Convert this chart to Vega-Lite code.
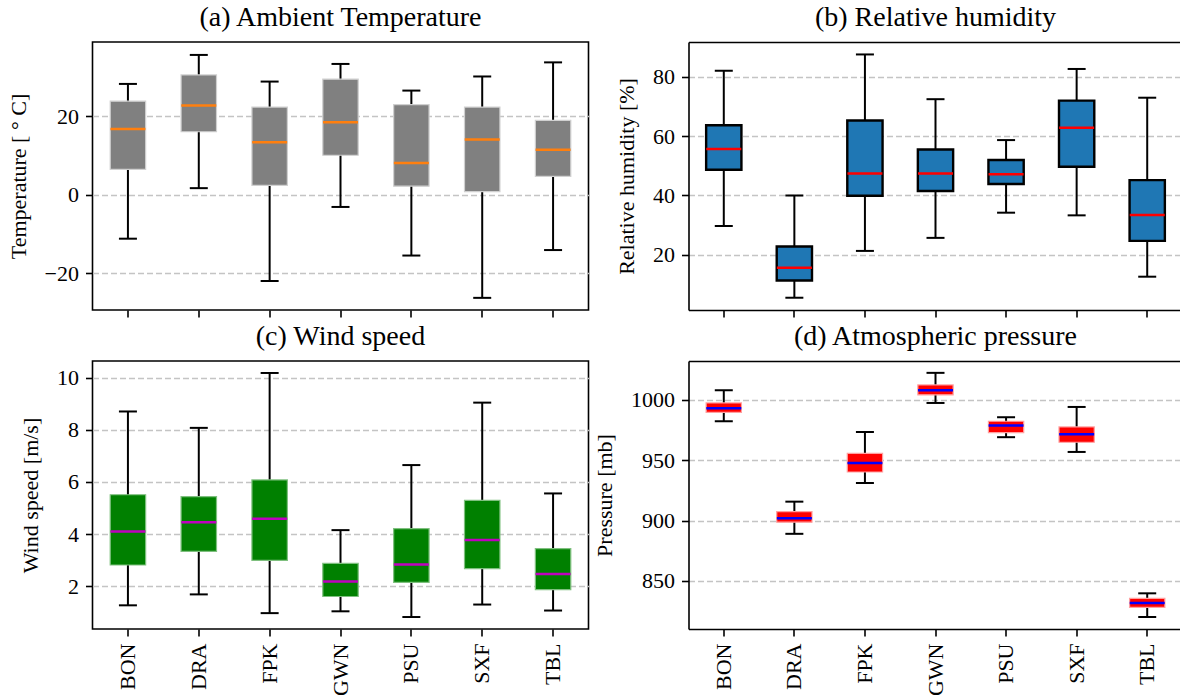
{
  "$schema": "https://vega.github.io/schema/vega-lite/v6.json",
  "background": "white",
  "padding": {"left": 5.5, "top": 3, "right": 0, "bottom": 0},
  "columns": 2,
  "spacing": {"row": 3, "column": 4},
  "config": {
    "font": "Liberation Serif",
    "title": {"font": "Liberation Serif", "fontSize": 28, "fontWeight": "normal", "color": "black", "offset": 10},
    "axis": {
      "labelFont": "Liberation Serif", "titleFont": "Liberation Serif",
      "labelFontSize": 22, "titleFontSize": 22, "titleFontWeight": "normal",
      "labelColor": "black", "titleColor": "black",
      "tickColor": "black", "tickSize": 7, "tickWidth": 1.6, "labelPadding": 7,
      "titlePadding": 14, "domain": false,
      "gridColor": "#c4c4c4", "gridDash": [6, 3], "gridWidth": 1.4
    }
  },
  "datasets": {
    "stats": [
      {"panel": "a", "station": "BON", "low": -11.2, "q1": 6.5, "median": 16.8, "q3": 23.9, "high": 28.3},
      {"panel": "a", "station": "DRA", "low": 1.7, "q1": 16.1, "median": 22.8, "q3": 30.6, "high": 35.7},
      {"panel": "a", "station": "FPK", "low": -22.0, "q1": 2.4, "median": 13.4, "q3": 22.4, "high": 28.9},
      {"panel": "a", "station": "GWN", "low": -3.1, "q1": 10.1, "median": 18.5, "q3": 29.5, "high": 33.4},
      {"panel": "a", "station": "PSU", "low": -15.5, "q1": 2.2, "median": 8.1, "q3": 23.0, "high": 26.6},
      {"panel": "a", "station": "SXF", "low": -26.3, "q1": 0.8, "median": 14.1, "q3": 22.4, "high": 30.2},
      {"panel": "a", "station": "TBL", "low": -14.1, "q1": 4.7, "median": 11.5, "q3": 19.0, "high": 33.8},
      {"panel": "b", "station": "BON", "low": 29.7, "q1": 48.7, "median": 55.7, "q3": 63.7, "high": 82.1},
      {"panel": "b", "station": "DRA", "low": 5.5, "q1": 11.3, "median": 15.6, "q3": 22.8, "high": 40.0},
      {"panel": "b", "station": "FPK", "low": 21.3, "q1": 39.9, "median": 47.4, "q3": 65.3, "high": 87.6},
      {"panel": "b", "station": "GWN", "low": 25.7, "q1": 41.5, "median": 47.4, "q3": 55.5, "high": 72.5},
      {"panel": "b", "station": "PSU", "low": 34.2, "q1": 43.9, "median": 47.2, "q3": 52.0, "high": 58.7},
      {"panel": "b", "station": "SXF", "low": 33.3, "q1": 49.7, "median": 62.9, "q3": 72.0, "high": 82.7},
      {"panel": "b", "station": "TBL", "low": 12.6, "q1": 24.7, "median": 33.4, "q3": 45.2, "high": 73.0},
      {"panel": "c", "station": "BON", "low": 1.26, "q1": 2.81, "median": 4.10, "q3": 5.51, "high": 8.71},
      {"panel": "c", "station": "DRA", "low": 1.68, "q1": 3.33, "median": 4.45, "q3": 5.44, "high": 8.08},
      {"panel": "c", "station": "FPK", "low": 0.96, "q1": 2.99, "median": 4.59, "q3": 6.08, "high": 10.19},
      {"panel": "c", "station": "GWN", "low": 1.03, "q1": 1.60, "median": 2.18, "q3": 2.87, "high": 4.15},
      {"panel": "c", "station": "PSU", "low": 0.81, "q1": 2.14, "median": 2.83, "q3": 4.21, "high": 6.65},
      {"panel": "c", "station": "SXF", "low": 1.29, "q1": 2.67, "median": 3.77, "q3": 5.29, "high": 9.05},
      {"panel": "c", "station": "TBL", "low": 1.06, "q1": 1.86, "median": 2.46, "q3": 3.44, "high": 5.56},
      {"panel": "d", "station": "BON", "low": 982.1, "q1": 989.5, "median": 992.8, "q3": 997.2, "high": 1007.7},
      {"panel": "d", "station": "DRA", "low": 889.0, "q1": 898.6, "median": 901.9, "q3": 907.4, "high": 915.6},
      {"panel": "d", "station": "FPK", "low": 931.0, "q1": 940.1, "median": 947.5, "q3": 955.5, "high": 973.2},
      {"panel": "d", "station": "GWN", "low": 997.2, "q1": 1003.9, "median": 1007.7, "q3": 1012.1, "high": 1022.1},
      {"panel": "d", "station": "PSU", "low": 968.9, "q1": 972.7, "median": 978.5, "q3": 982.1, "high": 985.4},
      {"panel": "d", "station": "SXF", "low": 956.7, "q1": 964.7, "median": 971.4, "q3": 977.4, "high": 993.9},
      {"panel": "d", "station": "TBL", "low": 820.2, "q1": 828.2, "median": 831.8, "q3": 835.7, "high": 839.8}
    ]
  },
  "concat": [
    {
      "title": "(a) Ambient Temperature",
      "width": 496, "height": 268,
      "view": {"stroke": "black", "strokeWidth": 1.6},
      "data": {"name": "stats"},
      "transform": [{"filter": "datum.panel === 'a'"}],
      "encoding": {
        "x": {"field": "station", "type": "nominal", "title": null,
              "scale": {"paddingInner": 0, "paddingOuter": 0},
              "axis": {"labels": false, "grid": false}}
      },
      "layer": [
        {"mark": {"type": "rule", "color": "black", "strokeWidth": 2},
         "encoding": {"y": {"field": "low", "type": "quantitative", "title": "Temperature [ ° C]",
                            "scale": {"domain": [-29.4, 39.0], "nice": false, "zero": false},
                            "axis": {"values": [-20, 0, 20], "grid": true, "format": "d"}},
                      "y2": {"field": "high"}}},
        {"mark": {"type": "bar", "width": {"band": 0.5}, "fill": "#808080", "stroke": "#d0d0d0", "strokeWidth": 1.2},
         "encoding": {"y": {"field": "q1", "type": "quantitative", "title": "Temperature [ ° C]"}, "y2": {"field": "q3"}}},
        {"mark": {"type": "tick", "color": "#ff7f0e", "size": 35, "thickness": 2.5, "opacity": 1},
         "encoding": {"y": {"field": "median", "type": "quantitative", "title": "Temperature [ ° C]"}}},
        {"mark": {"type": "tick", "color": "black", "size": 18, "thickness": 2, "opacity": 1},
         "encoding": {"y": {"field": "low", "type": "quantitative", "title": "Temperature [ ° C]"}}},
        {"mark": {"type": "tick", "color": "black", "size": 18, "thickness": 2, "opacity": 1},
         "encoding": {"y": {"field": "high", "type": "quantitative", "title": "Temperature [ ° C]"}}}
      ]
    },
    {
      "title": "(b) Relative humidity",
      "width": 494, "height": 268,
      "view": {"stroke": null},
      "data": {"name": "stats"},
      "transform": [{"filter": "datum.panel === 'b'"}],
      "resolve": {"axis": {"x": "independent"}},
      "layer": [
        {"mark": {"type": "rule", "color": "black", "strokeWidth": 2},
         "encoding": {
           "x": {"field": "station", "type": "nominal", "title": null,
                 "scale": {"paddingInner": 0, "paddingOuter": 0},
                 "axis": {"labels": false, "grid": false, "domain": true, "domainColor": "black", "domainWidth": 1.6}},
           "y": {"field": "low", "type": "quantitative", "title": "Relative humidity [%]",
                 "scale": {"domain": [1.36, 91.8], "nice": false, "zero": false},
                 "axis": {"values": [20, 40, 60, 80], "grid": true, "format": "d", "domain": true, "domainColor": "black", "domainWidth": 1.6}},
           "y2": {"field": "high"}}},
        {"mark": {"type": "bar", "width": {"band": 0.5}, "fill": "#1f77b4", "stroke": "black", "strokeWidth": 2.4},
         "encoding": {
           "x": {"field": "station", "type": "nominal", "title": null,
                 "axis": {"orient": "top", "labels": false, "ticks": false, "grid": false, "domain": true, "domainColor": "black", "domainWidth": 1.6}},
           "y": {"field": "q1", "type": "quantitative", "title": "Relative humidity [%]"}, "y2": {"field": "q3"}}},
        {"mark": {"type": "tick", "color": "#ff0000", "size": 35, "thickness": 2.5, "opacity": 1},
         "encoding": {"x": {"field": "station", "type": "nominal", "axis": null},
                      "y": {"field": "median", "type": "quantitative", "title": "Relative humidity [%]"}}},
        {"mark": {"type": "tick", "color": "black", "size": 18, "thickness": 2, "opacity": 1},
         "encoding": {"x": {"field": "station", "type": "nominal", "axis": null},
                      "y": {"field": "low", "type": "quantitative", "title": "Relative humidity [%]"}}},
        {"mark": {"type": "tick", "color": "black", "size": 18, "thickness": 2, "opacity": 1},
         "encoding": {"x": {"field": "station", "type": "nominal", "axis": null},
                      "y": {"field": "high", "type": "quantitative", "title": "Relative humidity [%]"}}}
      ]
    },
    {
      "title": "(c) Wind speed",
      "width": 496, "height": 268,
      "view": {"stroke": "black", "strokeWidth": 1.6},
      "data": {"name": "stats"},
      "transform": [{"filter": "datum.panel === 'c'"}],
      "encoding": {
        "x": {"field": "station", "type": "nominal", "title": null,
              "scale": {"paddingInner": 0, "paddingOuter": 0},
              "axis": {"labelAngle": -90, "grid": false}}
      },
      "layer": [
        {"mark": {"type": "rule", "color": "black", "strokeWidth": 2},
         "encoding": {"y": {"field": "low", "type": "quantitative", "title": "Wind speed [m/s]",
                            "scale": {"domain": [0.35, 10.65], "nice": false, "zero": false},
                            "axis": {"values": [2, 4, 6, 8, 10], "grid": true, "format": "d"}},
                      "y2": {"field": "high"}}},
        {"mark": {"type": "bar", "width": {"band": 0.5}, "fill": "#008000", "stroke": "#7fc07f", "strokeWidth": 1.2},
         "encoding": {"y": {"field": "q1", "type": "quantitative", "title": "Wind speed [m/s]"}, "y2": {"field": "q3"}}},
        {"mark": {"type": "tick", "color": "#bf00bf", "size": 35, "thickness": 2.5, "opacity": 1},
         "encoding": {"y": {"field": "median", "type": "quantitative", "title": "Wind speed [m/s]"}}},
        {"mark": {"type": "tick", "color": "black", "size": 18, "thickness": 2, "opacity": 1},
         "encoding": {"y": {"field": "low", "type": "quantitative", "title": "Wind speed [m/s]"}}},
        {"mark": {"type": "tick", "color": "black", "size": 18, "thickness": 2, "opacity": 1},
         "encoding": {"y": {"field": "high", "type": "quantitative", "title": "Wind speed [m/s]"}}}
      ]
    },
    {
      "title": "(d) Atmospheric pressure",
      "width": 494, "height": 268,
      "view": {"stroke": null},
      "data": {"name": "stats"},
      "transform": [{"filter": "datum.panel === 'd'"}],
      "resolve": {"axis": {"x": "independent"}},
      "layer": [
        {"mark": {"type": "rule", "color": "black", "strokeWidth": 2},
         "encoding": {
           "x": {"field": "station", "type": "nominal", "title": null,
                 "scale": {"paddingInner": 0, "paddingOuter": 0},
                 "axis": {"labelAngle": -90, "grid": false, "domain": true, "domainColor": "black", "domainWidth": 1.6}},
           "y": {"field": "low", "type": "quantitative", "title": "Pressure [mb]",
                 "scale": {"domain": [810.3, 1031.9], "nice": false, "zero": false},
                 "axis": {"values": [850, 900, 950, 1000], "grid": true, "format": "d", "domain": true, "domainColor": "black", "domainWidth": 1.6}},
           "y2": {"field": "high"}}},
        {"mark": {"type": "bar", "width": {"band": 0.5}, "fill": "#ff0000", "stroke": "#ffa0a0", "strokeWidth": 1.2},
         "encoding": {
           "x": {"field": "station", "type": "nominal", "title": null,
                 "axis": {"orient": "top", "labels": false, "ticks": false, "grid": false, "domain": true, "domainColor": "black", "domainWidth": 1.6}},
           "y": {"field": "q1", "type": "quantitative", "title": "Pressure [mb]"}, "y2": {"field": "q3"}}},
        {"mark": {"type": "tick", "color": "#0000ff", "size": 35, "thickness": 2.5, "opacity": 1},
         "encoding": {"x": {"field": "station", "type": "nominal", "axis": null},
                      "y": {"field": "median", "type": "quantitative", "title": "Pressure [mb]"}}},
        {"mark": {"type": "tick", "color": "black", "size": 18, "thickness": 2, "opacity": 1},
         "encoding": {"x": {"field": "station", "type": "nominal", "axis": null},
                      "y": {"field": "low", "type": "quantitative", "title": "Pressure [mb]"}}},
        {"mark": {"type": "tick", "color": "black", "size": 18, "thickness": 2, "opacity": 1},
         "encoding": {"x": {"field": "station", "type": "nominal", "axis": null},
                      "y": {"field": "high", "type": "quantitative", "title": "Pressure [mb]"}}}
      ]
    }
  ]
}
